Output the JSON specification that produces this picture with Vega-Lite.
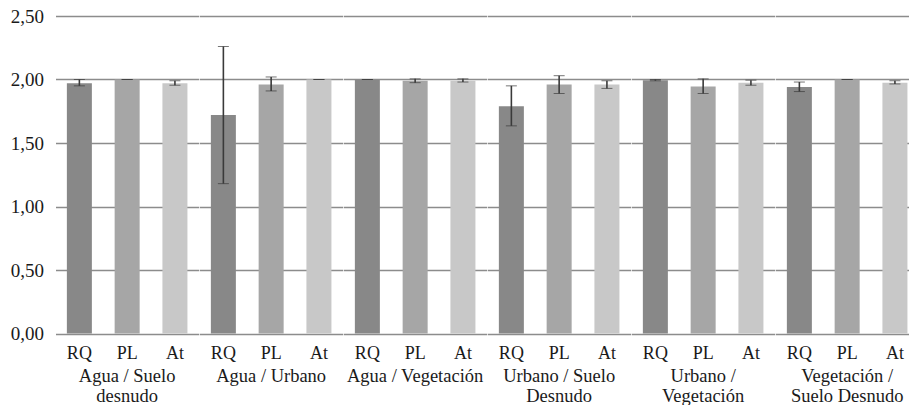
{
  "$schema": "https://vega.github.io/schema/vega-lite/v6.json",
  "padding": {"left": 9.5, "top": 7, "right": 0, "bottom": 0},
  "background": "white",
  "data": {"values": [
    {"group": "Agua / Suelo|desnudo", "serie": "RQ", "value": 1.97, "lo": 1.95, "hi": 2.00},
    {"group": "Agua / Suelo|desnudo", "serie": "PL", "value": 2.00, "lo": 2.00, "hi": 2.00},
    {"group": "Agua / Suelo|desnudo", "serie": "At", "value": 1.97, "lo": 1.955, "hi": 1.99},
    {"group": "Agua / Urbano", "serie": "RQ", "value": 1.72, "lo": 1.18, "hi": 2.26},
    {"group": "Agua / Urbano", "serie": "PL", "value": 1.96, "lo": 1.91, "hi": 2.02},
    {"group": "Agua / Urbano", "serie": "At", "value": 2.00, "lo": 2.00, "hi": 2.00},
    {"group": "Agua / Vegetación", "serie": "RQ", "value": 2.00, "lo": 2.00, "hi": 2.00},
    {"group": "Agua / Vegetación", "serie": "PL", "value": 1.99, "lo": 1.975, "hi": 2.005},
    {"group": "Agua / Vegetación", "serie": "At", "value": 1.99, "lo": 1.98, "hi": 2.005},
    {"group": "Urbano / Suelo|Desnudo", "serie": "RQ", "value": 1.79, "lo": 1.635, "hi": 1.95},
    {"group": "Urbano / Suelo|Desnudo", "serie": "PL", "value": 1.96, "lo": 1.89, "hi": 2.03},
    {"group": "Urbano / Suelo|Desnudo", "serie": "At", "value": 1.96, "lo": 1.93, "hi": 1.99},
    {"group": "Urbano /|Vegetación", "serie": "RQ", "value": 1.995, "lo": 1.99, "hi": 2.00},
    {"group": "Urbano /|Vegetación", "serie": "PL", "value": 1.945, "lo": 1.89, "hi": 2.005},
    {"group": "Urbano /|Vegetación", "serie": "At", "value": 1.975, "lo": 1.955, "hi": 1.995},
    {"group": "Vegetación /|Suelo Desnudo", "serie": "RQ", "value": 1.94, "lo": 1.905, "hi": 1.98},
    {"group": "Vegetación /|Suelo Desnudo", "serie": "PL", "value": 2.00, "lo": 2.00, "hi": 2.00},
    {"group": "Vegetación /|Suelo Desnudo", "serie": "At", "value": 1.975, "lo": 1.965, "hi": 1.99}
  ]},
  "facet": {
    "column": {
      "field": "group",
      "type": "nominal",
      "sort": ["Agua / Suelo|desnudo", "Agua / Urbano", "Agua / Vegetación", "Urbano / Suelo|Desnudo", "Urbano /|Vegetación", "Vegetación /|Suelo Desnudo"],
      "title": null,
      "header": {
        "labelOrient": "bottom",
        "labelExpr": "split(datum.value, '|')",
        "labelFontSize": 18.5,
        "labelColor": "#1a1a1a",
        "labelLineHeight": 19.5,
        "labelPadding": 5,
        "labelBaseline": "top"
      }
    }
  },
  "spacing": 0,
  "spec": {
    "width": 143.3,
    "height": 317.5,
    "encoding": {
      "x": {
        "field": "serie",
        "type": "nominal",
        "sort": ["RQ", "PL", "At"],
        "scale": {"paddingInner": 0.4766, "paddingOuter": 0.238},
        "axis": {
          "title": null,
          "labelAngle": 0,
          "domain": false,
          "ticks": false,
          "grid": false,
          "labelFontSize": 18,
          "labelColor": "#1a1a1a",
          "labelPadding": 10
        }
      }
    },
    "layer": [
      {
        "mark": {"type": "bar"},
        "encoding": {
          "y": {
            "field": "value",
            "type": "quantitative",
            "scale": {"domain": [0, 2.5], "nice": false},
            "axis": {
              "title": null,
              "values": [0, 0.5, 1, 1.5, 2, 2.5],
              "labelExpr": "replace(format(datum.value, '.2f'), '.', ',')",
              "domain": false,
              "ticks": false,
              "grid": true,
              "gridColor": "#8c8c8c",
              "gridWidth": 1.5,
              "labelFontSize": 19,
              "labelColor": "#1a1a1a",
              "labelPadding": 12
            }
          },
          "color": {
            "field": "serie",
            "type": "nominal",
            "scale": {"domain": ["RQ", "PL", "At"], "range": ["#888888", "#a6a6a6", "#c8c8c8"]},
            "legend": null
          }
        }
      },
      {
        "mark": {"type": "errorbar", "ticks": {"size": 11, "color": "#3a3a3a", "strokeWidth": 1.8}, "rule": {"color": "#3a3a3a", "strokeWidth": 1.6}},
        "encoding": {
          "y": {"field": "lo", "type": "quantitative"},
          "y2": {"field": "hi"}
        }
      }
    ]
  },
  "config": {
    "font": "Liberation Serif",
    "axis": {"labelFont": "Liberation Serif", "domain": false},
    "header": {"labelFont": "Liberation Serif"},
    "view": {"stroke": null},
    "style": {"cell": {"stroke": null}}
  }
}
